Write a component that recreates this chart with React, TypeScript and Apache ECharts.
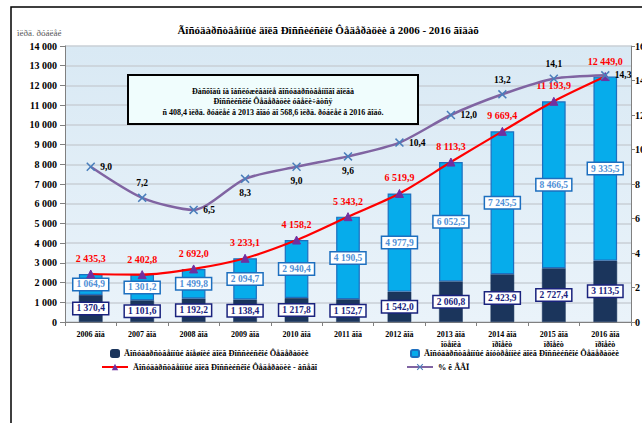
import React, { useEffect, useRef } from "react";
import * as echarts from "echarts";

const years = ["2006", "2007", "2008", "2009", "2010", "2011", "2012", "2013", "2014", "2015", "2016"];
const yearNotes = ["", "", "", "", "", "", "", "îöåíêà", "ïðîåêò", "ïðîåêò", "ïðîåêò"];
const externalDebt = [1370.4, 1101.6, 1192.2, 1138.4, 1217.8, 1152.7, 1542.0, 2060.8, 2423.9, 2727.4, 3113.5];
const internalDebt = [1064.9, 1301.2, 1499.8, 2094.7, 2940.4, 4190.5, 4977.9, 6052.5, 7245.5, 8466.5, 9335.5];
const totalDebt = [2435.3, 2402.8, 2692.0, 3233.1, 4158.2, 5343.2, 6519.9, 8113.3, 9669.4, 11193.9, 12449.0];
const pctGdp = [9.0, 7.2, 6.5, 8.3, 9.0, 9.6, 10.4, 12.0, 13.2, 14.1, 14.3];
const pctLabelPos = ["right", "top", "right", "bottom", "bottom", "bottom", "right", "right", "top", "top", "right"];

const nameExternal = "Ãîñóäàðñòâåííûé âíåøíèé äîëã Ðîññèéñêîé Ôåäåðàöèè";
const nameInternal = "Ãîñóäàðñòâåííûé âíóòðåííèé äîëã Ðîññèéñêîé Ôåäåðàöèè";
const nameTotal = "Ãîñóäàðñòâåííûé äîëã Ðîññèéñêîé Ôåäåðàöèè - âñåãî";
const namePct = "% ê ÂÂÏ";
const titleText = "Ãîñóäàðñòâåííûé äîëã Ðîññèéñêîé Ôåäåðàöèè â 2006 - 2016 ãîäàõ";
const unitText = "ìëðä. ðóáëåé";
const boxLines = [
  "Ðàñõîäû íà îáñëóæèâàíèå ãîñóäàðñòâåííîãî äîëãà",
  "Ðîññèéñêîé Ôåäåðàöèè óâåëè÷àòñÿ",
  "ñ 408,4 ìëðä. ðóáëåé â 2013 ãîäó äî 568,6 ìëðä. ðóáëåé â 2016 ãîäó.",
];

const FONT = "Liberation Serif";

function fmt(v: number, d: number) {
  const s = v.toFixed(d);
  const [i, f] = s.split(".");
  const ii = i.replace(/\B(?=(\d{3})+(?!\d))/g, " ");
  return f !== undefined ? ii + "," + f : ii;
}

const xMarker = "path://M0,1.2 L1.2,0 L5,3.8 L8.8,0 L10,1.2 L6.2,5 L10,8.8 L8.8,10 L5,6.2 L1.2,10 L0,8.8 L3.8,5 Z";

export default function App() {
  const ref = useRef<HTMLDivElement>(null);
  useEffect(() => {
    if (!ref.current) return;
    const chart = echarts.init(ref.current, null, { renderer: "svg" });
    const legendText = { fontFamily: FONT, fontWeight: "bold", fontSize: 8.3, color: "#000" };
    chart.setOption({
      animation: false,
      backgroundColor: "#fff",
      textStyle: { fontFamily: FONT },
      grid: {
        left: 65,
        right: 11,
        top: 46,
        bottom: 101,
        outerBoundsMode: "none",
        containLabel: false,
        show: true,
        borderWidth: 0,
        backgroundColor: new echarts.graphic.LinearGradient(0, 0, 0, 1, [
          { offset: 0, color: "#d9e9f4" },
          { offset: 1, color: "#eaf3fa" },
        ]),
      },
      legend: [
        { data: [nameExternal], left: 110, top: 349, itemWidth: 8, itemHeight: 7, padding: 0, textStyle: legendText },
        { data: [nameInternal], left: 410, top: 349, itemWidth: 8, itemHeight: 7, padding: 0, textStyle: legendText },
        { data: [nameTotal], left: 101, top: 363, itemWidth: 26, itemHeight: 8, padding: 0, textStyle: legendText },
        { data: [namePct], left: 406, top: 363, itemWidth: 26, itemHeight: 8, padding: 0, textStyle: legendText },
      ],
      xAxis: {
        type: "category",
        data: years.map((y, i) => y + " ãîä" + (yearNotes[i] ? "\n" + yearNotes[i] : "")),
        boundaryGap: true,
        axisLine: { lineStyle: { color: "#808080", width: 1 } },
        axisTick: { show: true, alignWithLabel: false, length: 4, lineStyle: { color: "#808080" } },
        axisLabel: {
          fontFamily: FONT,
          fontWeight: "bold",
          fontSize: 8,
          color: "#000",
          margin: 8,
          lineHeight: 9.5,
          interval: 0,
          verticalAlign: "top",
        },
      },
      yAxis: [
        {
          type: "value",
          min: 0,
          max: 14000,
          interval: 1000,
          axisLine: { show: true, lineStyle: { color: "#808080" } },
          axisTick: { show: true, length: 5, lineStyle: { color: "#808080" } },
          splitLine: { lineStyle: { color: "#c9cfd6", width: 1.5 } },
          axisLabel: {
            fontFamily: FONT,
            fontWeight: "bold",
            fontSize: 10,
            color: "#000",
            margin: 8,
            formatter: (v: number) => fmt(v, 0),
          },
        },
        {
          type: "value",
          min: 0,
          max: 16,
          interval: 2,
          position: "right",
          axisLine: { show: true, lineStyle: { color: "#808080" } },
          axisTick: { show: true, length: 4, lineStyle: { color: "#808080" } },
          splitLine: { show: false },
          axisLabel: { fontFamily: FONT, fontWeight: "bold", fontSize: 10, color: "#000", margin: 4 },
        },
      ],
      series: [
        {
          name: nameExternal,
          type: "bar",
          stack: "debt",
          barWidth: "46%",
          data: externalDebt,
          itemStyle: { color: "#1b355c", borderColor: "#1b355c", borderWidth: 0.5 },
          label: {
            show: true,
            position: "inside",
            formatter: (p: any) => fmt(p.value, 1),
            fontFamily: FONT,
            fontWeight: "bold",
            fontSize: 9.5,
            color: "#1a237e",
            backgroundColor: "#fff",
            borderColor: "#1a237e",
            borderWidth: 1.5,
            padding: [1, 3, 0, 3],
          },
          z: 2,
        },
        {
          name: nameInternal,
          type: "bar",
          stack: "debt",
          barWidth: "46%",
          data: internalDebt,
          itemStyle: { color: "#06aceb", borderColor: "#1d6fbf", borderWidth: 1.2 },
          label: {
            show: true,
            position: "inside",
            formatter: (p: any) => fmt(p.value, 1),
            fontFamily: FONT,
            fontWeight: "bold",
            fontSize: 9.5,
            color: "#4f8fd6",
            backgroundColor: "#fff",
            borderColor: "#1d6fbf",
            borderWidth: 1.5,
            padding: [1, 3, 0, 3],
          },
          z: 2,
        },
        {
          name: nameTotal,
          type: "line",
          data: totalDebt,
          smooth: 0.3,
          symbol: "triangle",
          symbolSize: 8,
          lineStyle: { color: "#ff0000", width: 2.2 },
          itemStyle: { color: "#7030a0", borderColor: "#7030a0" },
          label: {
            show: true,
            position: "top",
            distance: 6,
            formatter: (p: any) => fmt(p.value, 1),
            fontFamily: FONT,
            fontWeight: "bold",
            fontSize: 10,
            color: "#ff0000",
          },
          z: 4,
        },
        {
          name: namePct,
          type: "line",
          yAxisIndex: 1,
          smooth: 0.25,
          data: pctGdp.map((v, i) => ({ value: v, label: { position: pctLabelPos[i] } })),
          symbol: xMarker,
          symbolSize: 9,
          lineStyle: { color: "#8064a2", width: 2.5 },
          itemStyle: { color: "#4a7ebb" },
          label: {
            show: true,
            distance: 5,
            formatter: (p: any) => fmt(p.value, 1),
            fontFamily: FONT,
            fontWeight: "bold",
            fontSize: 9.5,
            color: "#000",
          },
          z: 5,
        },
      ],
      graphic: [
        {
          type: "rect",
          shape: { x: 11, y: 7, width: 700, height: 500 },
          style: { fill: "none", stroke: "#000", lineWidth: 1.5 },
          silent: true,
        },
        {
          type: "text",
          x: 17,
          y: 28,
          style: { text: unitText, fontFamily: FONT, fontSize: 9, fill: "#555" },
        },
        {
          type: "text",
          x: 328,
          y: 24,
          style: {
            text: titleText,
            fontFamily: FONT,
            fontWeight: "bold",
            fontSize: 11,
            fill: "#000",
            align: "center",
          },
        },
        {
          type: "rect",
          shape: { x: 128, y: 75, width: 290, height: 49 },
          style: { fill: "#f0fdfd", stroke: "#000", lineWidth: 2 },
          z: 100,
        },
        {
          type: "text",
          x: 273,
          y: 86,
          z: 101,
          style: {
            text: boxLines.join("\n"),
            fontFamily: FONT,
            fontWeight: "bold",
            fontSize: 8,
            lineHeight: 10.5,
            fill: "#000",
            align: "center",
          },
        },
      ],
    });
    return () => chart.dispose();
  }, []);
  return <div ref={ref} style={{ position: "fixed", left: 0, top: 0, width: 642, height: 423 }} />;
}
